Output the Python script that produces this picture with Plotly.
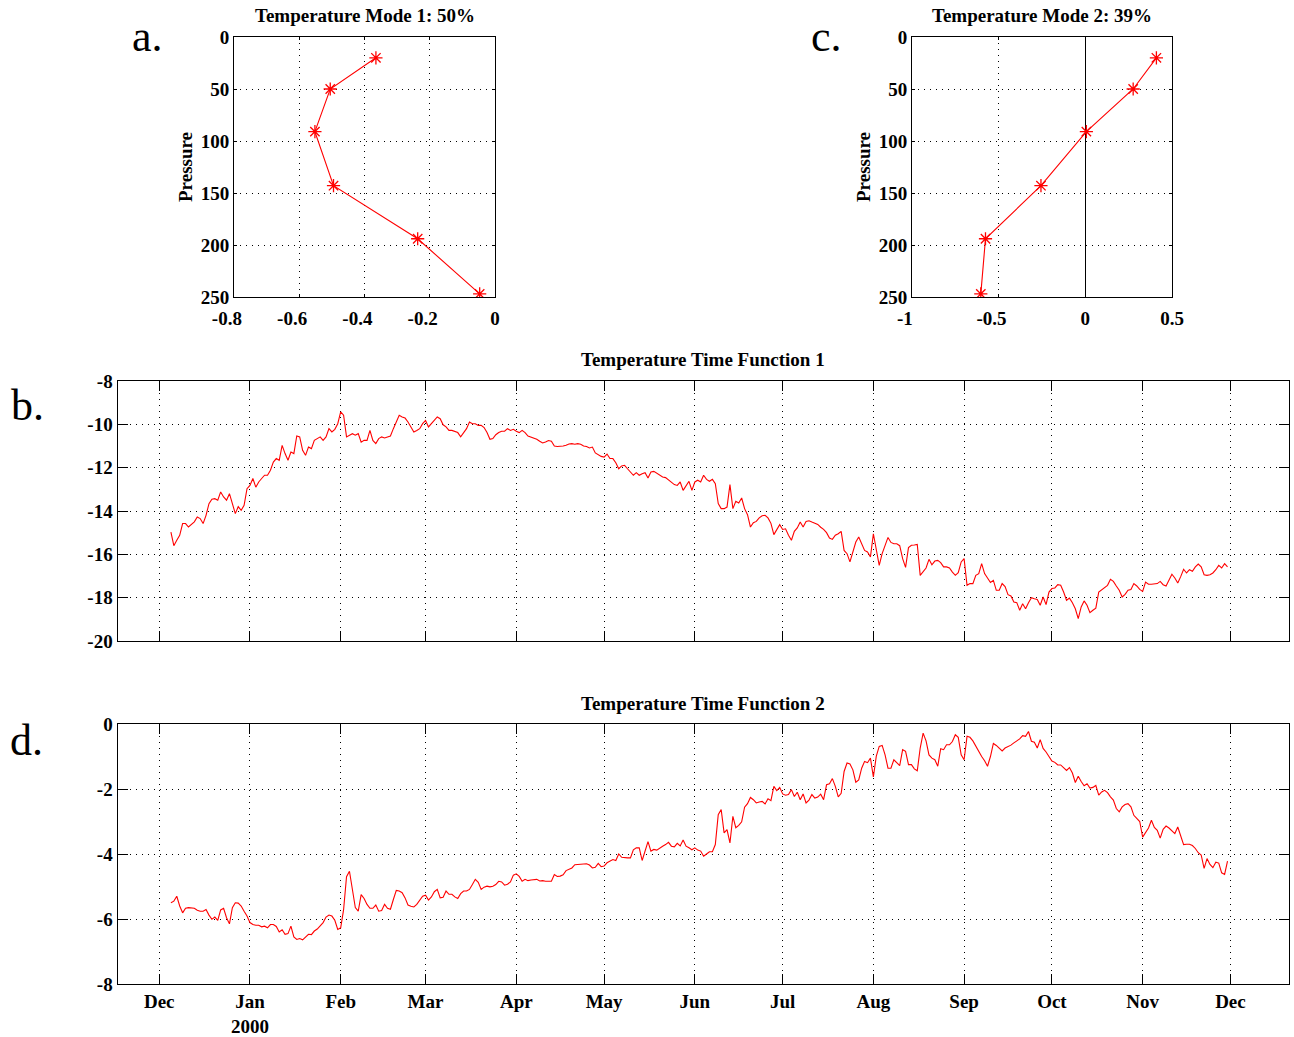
import pandas as pd
import plotly.graph_objects as go

# ---------------- data ----------------
pressure = [20, 50, 91, 143, 194, 247]
mode1 = [-0.365, -0.505, -0.552, -0.495, -0.237, -0.047]
mode2 = [0.41, 0.276, 0.006, -0.256, -0.576, -0.603]

series_start = "1999-12-05"  # first daily sample

tf1_values = [
    -14.97, -15.6, -15.35, -15.12, -14.58, -14.58, -14.74, -14.63, -14.5, -14.28,
    -14.35, -14.58, -14.2, -13.66, -13.46, -13.43, -13.5, -13.12, -13.35, -13.5,
    -13.2, -13.66, -14.12, -13.8, -13.97, -13.74, -12.97, -12.82, -12.5, -12.9,
    -12.66, -12.5, -12.35, -12.35, -12.12, -11.74, -11.58, -11.66, -10.97, -11.35,
    -11.66, -11.28, -11.35, -10.54, -10.58, -11.2, -11.43, -11.05, -11.12, -10.74,
    -10.66, -10.58, -10.74, -10.58, -10.2, -10.35, -10.23, -9.97, -9.43, -9.58,
    -10.58, -10.5, -10.43, -10.5, -10.43, -10.82, -10.74, -10.74, -10.28, -10.74,
    -10.89, -10.66, -10.58, -10.63, -10.58, -10.54, -10.2, -9.89, -9.58, -9.66,
    -9.71, -9.89, -10.12,
    -10.35, -10.28, -10.2, -9.97, -9.82, -10.12, -9.97, -9.86, -9.66, -9.74,
    -10.02, -10.12, -10.28, -10.28, -10.32, -10.38, -10.58, -10.38, -10.2, -9.89,
    -9.97, -9.97, -10.05, -10.05, -10.15, -10.38, -10.69, -10.66, -10.48, -10.38,
    -10.32, -10.32, -10.2, -10.28, -10.23, -10.32, -10.38, -10.28, -10.38, -10.54,
    -10.58, -10.63, -10.69, -10.78, -10.86, -10.82, -10.75, -10.78, -11.0, -11.02,
    -11.02, -11.0, -10.97, -10.91, -10.89, -10.92, -10.89, -10.92, -11.0, -11.02,
    -11.09, -11.05, -11.32, -11.4, -11.48, -11.51, -11.37, -11.58, -11.58, -11.77,
    -12.05, -11.92, -11.89, -12.05, -12.2, -12.35, -12.23, -12.35, -12.28, -12.23,
    -12.48, -12.2, -12.17, -12.25, -12.35, -12.43, -12.46, -12.58, -12.69, -12.78,
    -12.82, -12.66, -13.05, -12.82, -12.63, -13.05, -12.66, -12.58,
    -12.66, -12.35, -12.54, -12.63, -12.54, -12.74, -13.66, -13.89, -13.89, -13.82,
    -12.78, -13.89, -13.55, -13.63, -13.4, -13.89, -14.17, -14.74, -14.54, -14.48,
    -14.32, -14.22, -14.2, -14.32, -14.57, -15.09, -14.89, -14.63, -14.85, -14.82,
    -15.12, -15.35, -14.94, -14.78, -14.51, -14.74, -14.48, -14.45, -14.51, -14.58,
    -14.62, -14.75, -14.85, -15.0, -15.25, -15.31, -15.12, -15.05, -14.94, -15.82,
    -15.97, -16.35, -15.86, -15.43, -15.2, -15.51, -15.82, -15.89, -16.12, -15.05,
    -15.86, -16.51, -15.97, -15.6, -15.22, -15.45, -15.51, -15.51, -15.6, -16.2,
    -16.6, -15.69, -15.58, -15.57, -15.54, -16.97, -16.82, -16.63, -16.23, -16.48,
    -16.31, -16.28, -16.38, -16.58, -16.58, -16.63, -16.82, -16.97, -16.85, -16.35,
    -16.2, -17.43, -17.35, -17.35, -16.97, -16.89, -16.43, -16.89, -17.09, -17.3,
    -17.2, -17.66, -17.66, -17.35, -17.49, -17.86, -17.92, -18.2, -18.23, -18.58,
    -18.28, -18.51, -18.23, -18.0, -18.05, -18.08, -18.35, -17.97, -18.32, -17.74,
    -17.58, -17.55, -17.4, -17.43, -17.74, -18.12, -18.02, -18.23, -18.51, -18.97,
    -18.43, -18.15, -18.35, -18.69, -18.58, -18.48, -17.74, -17.63, -17.52, -17.43,
    -17.15, -17.25, -17.46, -17.66, -17.97, -17.85, -17.66, -17.62, -17.35, -17.46,
    -17.62, -17.71, -17.28, -17.38, -17.38, -17.35, -17.35, -17.25, -17.4, -17.46,
    -17.18, -16.92, -17.09, -17.32, -17.03, -16.69, -16.86, -16.71, -16.78, -16.58,
    -16.45, -16.58, -16.94, -16.97, -16.94, -16.86, -16.71, -16.51, -16.63, -16.43, -16.58,
]

tf2_values = [
    -5.50, -5.45, -5.30, -5.60, -5.81, -5.67, -5.65, -5.67, -5.67, -5.73,
    -5.76, -5.76, -5.71, -5.88, -6.01, -5.94, -6.04, -5.72, -5.67, -5.96,
    -6.15, -5.65, -5.50, -5.51, -5.60, -5.76, -5.91, -6.11, -6.17, -6.19,
    -6.19, -6.24, -6.22, -6.27, -6.17, -6.17, -6.23, -6.40, -6.33, -6.47,
    -6.45, -6.22, -6.55, -6.63, -6.60, -6.64, -6.55, -6.47, -6.48, -6.37,
    -6.31, -6.22, -6.11, -5.94, -5.88, -5.91, -6.04, -6.32, -6.27, -5.71,
    -4.70, -4.53, -5.14, -5.65, -5.76, -5.25, -5.37, -5.55, -5.67, -5.67,
    -5.57, -5.76, -5.74, -5.55, -5.67, -5.70, -5.40, -5.12, -5.14, -5.19,
    -5.35, -5.57, -5.61,
    -5.63, -5.55, -5.43, -5.30, -5.27, -5.42, -5.32, -5.16, -5.09, -5.35,
    -5.33, -5.14, -5.24, -5.24, -5.32, -5.37, -5.22, -5.14, -5.14, -5.09,
    -4.94, -4.78, -4.87, -5.09, -5.02, -4.99, -5.01, -4.99, -4.94, -4.84,
    -4.86, -4.96, -4.93, -4.86, -4.65, -4.61, -4.69, -4.84, -4.78, -4.82,
    -4.80, -4.78, -4.78, -4.83, -4.82, -4.84, -4.84, -4.84, -4.63, -4.69,
    -4.68, -4.64, -4.51, -4.48, -4.43, -4.33, -4.32, -4.31, -4.32, -4.30,
    -4.34, -4.43, -4.41, -4.29, -4.39, -4.37, -4.27, -4.22, -4.17, -4.20,
    -4.00, -4.10, -4.12, -4.12, -4.12, -3.87, -3.81, -3.81, -4.20, -3.91,
    -3.62, -3.91, -3.86, -3.88, -3.81, -3.76, -3.71, -3.64, -3.76, -3.78,
    -3.67, -3.75, -3.57, -3.76, -3.81, -3.87, -3.81, -3.88,
    -3.91, -4.07, -4.00, -3.93, -3.93, -3.71, -2.79, -2.63, -3.35, -3.25,
    -3.66, -2.84, -3.19, -3.12, -3.01, -2.56, -2.45, -2.26, -2.33, -2.43,
    -2.40, -2.38, -2.46, -2.30, -2.36, -1.92, -2.05, -1.95, -2.15, -2.19,
    -2.17, -2.02, -2.23, -2.10, -2.33, -2.15, -2.43, -2.34, -2.17, -2.28,
    -2.25, -2.16, -2.33, -1.87, -1.84, -1.68, -1.92, -2.24, -2.13, -1.46,
    -1.20, -1.23, -1.41, -1.79, -1.72, -1.36, -1.15, -1.19, -1.05, -1.63,
    -0.99, -0.69, -0.66, -0.95, -1.36, -1.36, -1.10, -1.20, -1.28, -0.79,
    -0.84, -1.25, -1.25, -1.38, -1.44, -0.74, -0.28, -0.52, -0.95, -1.05,
    -1.10, -1.30, -0.76, -0.79, -0.64, -0.64, -0.54, -0.33, -0.41, -0.95,
    -1.10, -0.38, -0.41, -0.52, -0.69, -0.84, -1.00, -1.13, -1.30, -1.00,
    -0.60, -0.66, -0.76, -0.83, -0.74, -0.70, -0.65, -0.58, -0.53, -0.46,
    -0.36, -0.38, -0.23, -0.53, -0.56, -0.74, -0.48, -0.75, -0.86, -1.01,
    -1.14, -1.18, -1.26, -1.26, -1.34, -1.43, -1.34, -1.51, -1.80, -1.61,
    -1.77, -1.90, -1.84, -1.97, -1.95, -1.89, -2.19, -2.09, -2.04, -2.11,
    -2.24, -2.34, -2.60, -2.70, -2.55, -2.48, -2.45, -2.55, -2.81, -2.89,
    -3.00, -3.48, -3.33, -3.20, -2.96, -3.18, -3.27, -3.51, -3.24, -3.14,
    -3.20, -3.30, -3.37, -3.17, -3.48, -3.71, -3.70, -3.70, -3.74, -3.83,
    -3.96, -4.03, -4.44, -4.14, -4.32, -4.42, -4.25, -4.28, -4.58, -4.63, -4.22,
]

month_ticks = ["1999-12-01", "2000-01-01", "2000-02-01", "2000-03-01", "2000-04-01",
               "2000-05-01", "2000-06-01", "2000-07-01", "2000-08-01", "2000-09-01",
               "2000-10-01", "2000-11-01", "2000-12-01"]
month_labels = ["Dec", "Jan<br>2000", "Feb", "Mar", "Apr", "May", "Jun", "Jul",
                "Aug", "Sep", "Oct", "Nov", "Dec"]

pressure_ticks = [0, 50, 100, 150, 200, 250]
mode1_ticks = [-0.8, -0.6, -0.4, -0.2, 0]
mode1_labels = ["-0.8", "-0.6", "-0.4", "-0.2", "0"]
mode2_ticks = [-1, -0.5, 0, 0.5]
mode2_labels = ["-1", "-0.5", "0", "0.5"]
tf1_ticks = [-20, -18, -16, -14, -12, -10, -8]
tf1_labels = ["-20", "-18", "-16", "-14", "-12", "-10", "-8"]
tf2_ticks = [-8, -6, -4, -2, 0]
tf2_labels = ["-8", "-6", "-4", "-2", "0"]

dates1 = pd.date_range(series_start, periods=len(tf1_values), freq="D")
dates2 = pd.date_range(series_start, periods=len(tf2_values), freq="D")

# ---------------- figure ----------------
W, H = 1294, 1037
FONT = "Liberation Serif"
tickfont = dict(family=FONT, size=19, color="black", weight="bold")
PAD = "\u00a0\u00a0\u00a0"  # negative x labels sit a bit left of their tick


def pad_neg(labels):
    return [s + PAD if s.startswith("-") else s for s in labels]


def px_x(a, b):
    return [a / W, b / W]


def px_y(top, bottom):
    return [1 - bottom / H, 1 - top / H]


fig = go.Figure()

marker = dict(symbol="asterisk-open", size=11, line=dict(color="red", width=1.3))
fig.add_trace(go.Scatter(x=mode1, y=pressure, mode="lines+markers",
                         line=dict(color="red", width=1.1), marker=marker,
                         xaxis="x", yaxis="y", showlegend=False))
fig.add_trace(go.Scatter(x=mode2, y=pressure, mode="lines+markers",
                         line=dict(color="red", width=1.1), marker=marker,
                         xaxis="x2", yaxis="y2", showlegend=False))
fig.add_trace(go.Scatter(x=dates1, y=tf1_values, mode="lines",
                         line=dict(color="red", width=1.1),
                         xaxis="x3", yaxis="y3", showlegend=False))
fig.add_trace(go.Scatter(x=dates2, y=tf2_values, mode="lines",
                         line=dict(color="red", width=1.1),
                         xaxis="x4", yaxis="y4", showlegend=False))

common = dict(showline=True, linecolor="black", linewidth=1, mirror="ticks",
              ticks="inside", tickcolor="black", tickwidth=1,
              showgrid=True, gridcolor="black", gridwidth=1, griddash="1px,5px",
              zeroline=False, tickfont=tickfont, automargin=False)


def ax(**kw):
    d = dict(common)
    d.update(kw)
    return d


top_y = px_y(37, 297)
date_range = ["1999-11-16 18:00", "2000-12-20 20:00"]
layout_axes = dict(
    xaxis=ax(domain=px_x(234, 495), range=[-0.8, 0], tickvals=mode1_ticks,
             ticktext=pad_neg(mode1_labels), ticklen=3, anchor="y",
             ticklabelstandoff=4),
    yaxis=ax(domain=top_y, range=[250, 0], tickvals=pressure_ticks,
             ticklen=3, anchor="x"),
    xaxis2=ax(domain=px_x(912, 1172), range=[-1, 0.5], tickvals=mode2_ticks,
              ticktext=pad_neg(mode2_labels), ticklen=3, anchor="y2",
              ticklabelstandoff=4,
              zeroline=True, zerolinecolor="black", zerolinewidth=1),
    yaxis2=ax(domain=top_y, range=[250, 0], tickvals=pressure_ticks,
              ticklen=3, anchor="x2"),
    xaxis3=ax(domain=px_x(117.5, 1288.5), range=date_range,
              tickvals=month_ticks, ticktext=month_labels, showticklabels=False,
              ticklen=10, anchor="y3"),
    yaxis3=ax(domain=px_y(381, 641), range=[-20, -8], tickvals=tf1_ticks,
              ticktext=tf1_labels, ticklen=10, anchor="x3"),
    xaxis4=ax(domain=px_x(117.5, 1288.5), range=date_range,
              tickvals=month_ticks, ticktext=month_labels, ticklen=10, anchor="y4",
              tickangle=0),
    yaxis4=ax(domain=px_y(724, 984), range=[-8, 0], tickvals=tf2_ticks,
              ticktext=tf2_labels, ticklen=10, anchor="x4"),
)

title_font = dict(family=FONT, size=19, color="black", weight="bold")
letter_font = dict(family=FONT, size=44, color="black")


def ann(text, x, y, font, **kw):
    d = dict(text=text, x=x / W, y=1 - y / H, xref="paper", yref="paper",
             showarrow=False, font=font, xanchor="center", yanchor="middle")
    d.update(kw)
    return d


annotations = [
    ann("Temperature Mode 1: 50%", 365, 15, title_font),
    ann("Temperature Mode 2: 39%", 1042, 15, title_font),
    ann("Temperature Time Function 1", 703, 359, title_font),
    ann("Temperature Time Function 2", 703, 703, title_font),
    ann("Pressure", 185, 167, title_font, textangle=-90),
    ann("Pressure", 863, 167, title_font, textangle=-90),
    ann("a.", 147, 36, letter_font),
    ann("c.", 826, 36, letter_font),
    ann("b.", 27, 405, letter_font),
    ann("d.", 26, 740, letter_font),
]

fig.update_layout(width=W, height=H, autosize=False,
                  margin=dict(l=0, r=0, t=0, b=0, pad=0),
                  paper_bgcolor="white", plot_bgcolor="white",
                  annotations=annotations, showlegend=False,
                  font=dict(family=FONT, color="black"),
                  **layout_axes)

fig.write_html("out.html",
               config={"displayModeBar": False},
               post_script="document.body.style.margin='0px';"
                           "document.body.style.overflow='hidden';")
